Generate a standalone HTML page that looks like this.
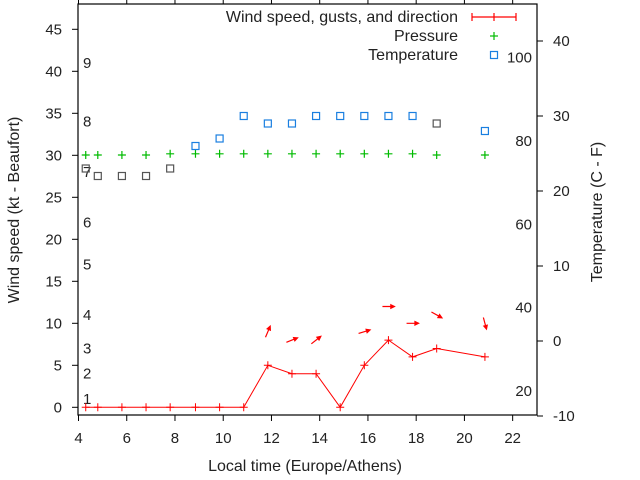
<!DOCTYPE html>
<html><head><meta charset="utf-8"><style>
html,body{margin:0;padding:0;background:#fff;}
svg{display:block;font-family:"Liberation Sans",sans-serif;font-size:15px;}
.big{font-size:16px;}
</style></head><body>
<svg id="chart" width="640" height="480" viewBox="0 0 640 480">
<g id="axes"></g>
<g id="marks"></g>
<text class="big" x="305" y="471" text-anchor="middle" fill="#222">Local time (Europe/Athens)</text>
<text class="big" transform="translate(19,210) rotate(-90)" text-anchor="middle" fill="#222">Wind speed (kt - Beaufort)</text>
<text class="big" transform="translate(602,212) rotate(-90)" text-anchor="middle" fill="#222">Temperature (C - F)</text>
<g>
<text class="big" x="458" y="22" text-anchor="end" fill="#222">Wind speed, gusts, and direction</text>
<g stroke="#f00" stroke-width="1.2"><line x1="472" y1="17" x2="516" y2="17"/><line x1="472" y1="13" x2="472" y2="21"/><line x1="494" y1="13" x2="494" y2="21"/><line x1="516" y1="13" x2="516" y2="21"/></g>
<text class="big" x="458" y="41" text-anchor="end" fill="#222">Pressure</text>
<g stroke="#0b0" stroke-width="1.2"><line x1="490" y1="36" x2="498" y2="36"/><line x1="494" y1="32" x2="494" y2="40"/></g>
<text class="big" x="458" y="60" text-anchor="end" fill="#222">Temperature</text>
<rect x="490.5" y="51.5" width="7" height="7" fill="none" stroke="#1a7fe0" stroke-width="1.2"/>
</g>
</svg>
<script>
const times = [4.3,4.8,5.8,6.8,7.8,8.85,9.85,10.85,11.85,12.85,13.85,14.85,15.85,16.85,17.85,18.85,20.85];
const windKt = [0,0,0,0,0,0,0,0,5,4,4,0,5,8,6,7,6];
const pressureHpa = [1013,1013,1013,1013,1014,1014,1014,1014,1014,1014,1014,1014,1014,1014,1014,1013,1013];
const tempC = [23,22,22,22,23,26,27,30,29,29,30,30,30,30,30,29,28];
const tempMeasured = [0,0,0,0,0,1,1,1,1,1,1,1,1,1,1,0,1];
const arrowTimes = [11.85,12.85,13.85,15.85,16.85,17.85,18.85,20.85];
const gustKt = [9,8,8,9,12,10,11,10];
const arrowAngle = [67,22,38,17,0,0,-29,-75];
const xTicks = [4,6,8,10,12,14,16,18,20,22];
const yTicks = [0,5,10,15,20,25,30,35,40,45];
const y2Ticks = [-10,0,10,20,30,40];
const beaufortLabels = ['1','2','3','4','5','6','7','8','9'];
const beaufortKt = [1,4,7,11,17,22,28,34,41];
const fahrenheitLabels = [20,40,60,80,100];

const L=78,R=537,T=4,B=415;
const xs=v=>78.5+24.12*(v-4);
const ys=v=>407.3-8.4*v;
const yt=c=>341-7.5*c;
const yp=p=>155-(p-1013)*1.2;
const NS='http://www.w3.org/2000/svg';
function mk(tag,attrs,parent){const e=document.createElementNS(NS,tag);for(const k in attrs)e.setAttribute(k,attrs[k]);parent.appendChild(e);return e;}
const ax=document.getElementById('axes'), mg=document.getElementById('marks');
let f=mk('rect',{x:L,y:T,width:R-L,height:B-T,fill:'none',stroke:'#000','stroke-width':1.2},ax);


xTicks.forEach(v=>{const x=xs(v);
 let t=mk('line',{x1:x,y1:B,x2:x,y2:B+6,stroke:'#000'},ax);
 
 
 let t2=mk('line',{x1:x,y1:T,x2:x,y2:T-6,stroke:'#000'},ax);
 
 
 let l=mk('text',{x:x,y:443,'text-anchor':'middle',fill:'#222'},ax);l.textContent=v;
 
 
});
yTicks.forEach(v=>{const y=ys(v);
 let t=mk('line',{x1:L-6,y1:y,x2:L,y2:y,stroke:'#000'},ax);
 
 
 let l=mk('text',{x:62,y:y+5,'text-anchor':'end',fill:'#222'},ax);l.textContent=v;
 
 
});
y2Ticks.forEach(v=>{const y=yt(v);
 let t=mk('line',{x1:R,y1:y,x2:R+6,y2:y,stroke:'#000'},ax);
 
 
 let l=mk('text',{x:553,y:y+5,'text-anchor':'start',fill:'#222'},ax);l.textContent=v;
 
 
});
beaufortLabels.forEach((s,i)=>{
 let l=mk('text',{x:83,y:ys(beaufortKt[i])+5,fill:'#222'},ax);l.textContent=s;
 
 
});
fahrenheitLabels.forEach(v=>{
 let l=mk('text',{x:532,y:yt((v-32)/1.8)+5,'text-anchor':'end',fill:'#222'},ax);l.textContent=v;
 
 
});
let pl=mk('polyline',{points:times.map((t,i)=>xs(t)+','+ys(windKt[i])).join(' '),fill:'none',stroke:'#f00','stroke-width':1},mg);


times.forEach((t,i)=>{const x=xs(t),y=ys(windKt[i]);
 let p=mk('path',{d:`M${x-4},${y}H${x+4}M${x},${y-4}V${y+4}`,stroke:'#f00','stroke-width':1},mg);
 
 
 let q=mk('path',{d:`M${x-4},${yp(pressureHpa[i])}H${x+4}M${x},${yp(pressureHpa[i])-4}V${yp(pressureHpa[i])+4}`,stroke:'#0b0','stroke-width':1.2},mg);
 
 
 let r=mk('rect',{x:x-3.5,y:yt(tempC[i])-3.5,width:7,height:7,fill:'none',stroke:tempMeasured[i]?'#1a7fe0':'#555','stroke-width':1.2},mg);
 
 
});
arrowTimes.forEach((t,i)=>{const cx=xs(t),cy=ys(gustKt[i]);const a=arrowAngle[i]*Math.PI/180;
 const dx=6*Math.cos(a),dy=-6*Math.sin(a);const hx=cx+dx,hy=cy+dy;
 const b1=a+Math.PI-0.45,b2=a+Math.PI+0.45;
 let p=mk('path',{d:`M${cx-dx},${cy-dy}L${hx},${hy}M${hx+4*Math.cos(b1)},${hy-4*Math.sin(b1)}L${hx},${hy}L${hx+4*Math.cos(b2)},${hy-4*Math.sin(b2)}Z`,stroke:'#f00',fill:'#f00','stroke-width':1.2},mg);
 
 
});
</script>
</body></html>
